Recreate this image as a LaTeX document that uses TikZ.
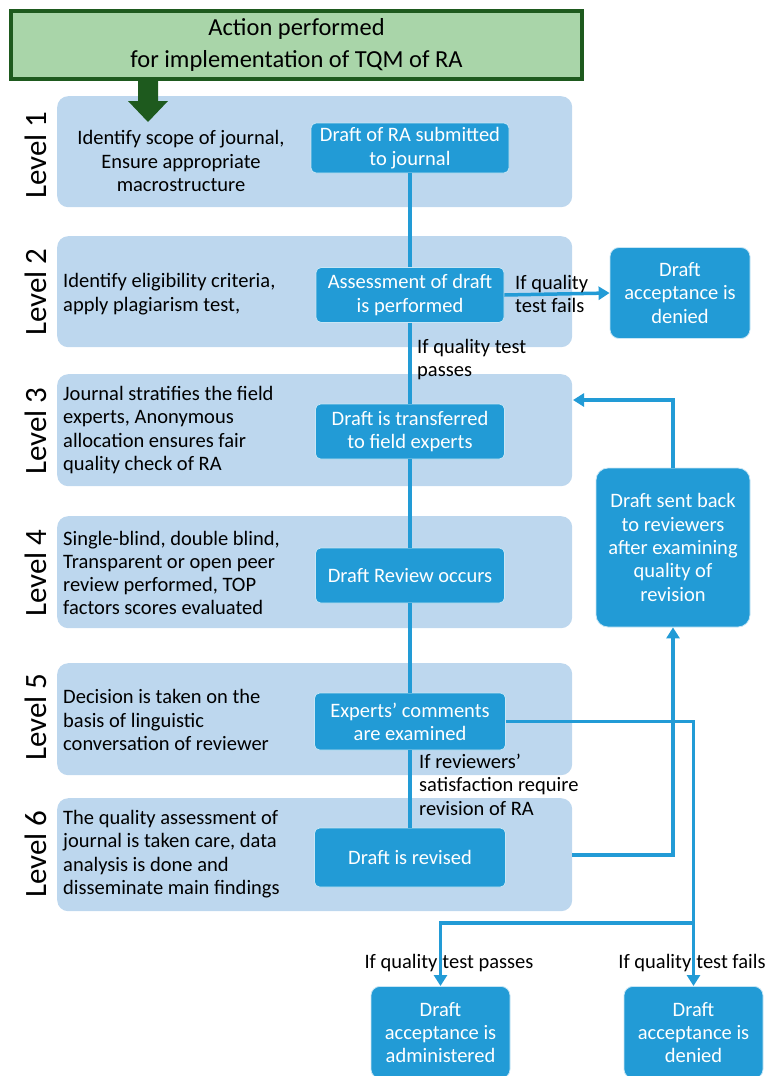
\documentclass[tikz,border=0pt]{standalone}
\usepackage{fontspec}
\setmainfont{Carlito}
\usetikzlibrary{arrows.meta}
\definecolor{bandblue}{HTML}{BDD7EE}
\definecolor{boxblue}{HTML}{229BD6}
\definecolor{hdrgreen}{HTML}{A9D5A9}
\definecolor{dkgreen}{HTML}{1E5A1E}
\newcommand{\fsbody}{\fontsize{20.5}{23.3}\selectfont}
\newcommand{\fshdr}{\fontsize{24.5}{31.5}\selectfont}
\newcommand{\fslvl}{\fontsize{31}{34}\selectfont}
\tikzset{
  band/.style={fill=bandblue, draw=none, rounded corners=11pt, minimum width=515pt, anchor=north west, inner sep=0pt},
  flowbox/.style={fill=boxblue, draw=white!75!boxblue, line width=0.8pt, rounded corners=5pt, text=white, align=center, font=\fsbody, inner sep=2pt},
  conn/.style={draw=boxblue, line width=3.5pt},
  tip/.style={-{Triangle[length=11pt,width=13pt]}},
  lvl/.style={rotate=90, font=\fslvl},
  desc/.style={font=\fsbody, align=left, anchor=west, inner sep=0pt},
  lbl/.style={font=\fsbody, align=left, inner sep=0pt}
}
\begin{document}
\begin{tikzpicture}[x=1pt,y=-1pt]
\useasboundingbox (0,0) rectangle (770,1076);
% header
\node[fill=hdrgreen, draw=dkgreen, line width=4pt, minimum width=571pt, minimum height=68pt, align=center, font=\fshdr, inner sep=0pt] (hdr) at (296.5,45) {Action performed\\for implementation of TQM of RA};
% bands
\node[band, minimum height=111pt] (b1) at (57,96) {};
\node[band, minimum height=111pt] (b2) at (57,236) {};
\node[band, minimum height=112pt] (b3) at (57,374) {};
\node[band, minimum height=112pt] (b4) at (57,516) {};
\node[band, minimum height=112pt] (b5) at (57,663) {};
\node[band, minimum height=113pt] (b6) at (57,798) {};
% header arrow
\fill[dkgreen] (138,80) -- (158,80) -- (158,101) -- (168,101) -- (148,122) -- (128,101) -- (138,101) -- cycle;
% level labels
\node[lvl] (l1) at (36,155) {Level 1};
\node[lvl] (l2) at (36,292) {Level 2};
\node[lvl] (l3) at (36,431) {Level 3};
\node[lvl] (l4) at (36,573) {Level 4};
\node[lvl] (l5) at (36,717) {Level 5};
\node[lvl] (l6) at (36,854) {Level 6};
% descriptions
\node[font=\fsbody, align=center, inner sep=0pt] (d1) at (181,161) {Identify scope of journal,\\Ensure appropriate\\macrostructure};
\node[desc] (d2) at (63,294) {Identify eligibility criteria,\\apply plagiarism test,};
\node[desc] (d3) at (63,430) {Journal stratifies the field\\experts, Anonymous\\allocation ensures fair\\quality check of RA};
\node[desc] (d4) at (63,573) {Single-blind, double blind,\\Transparent or open peer\\review performed, TOP\\factors scores evaluated};
\node[desc] (d5) at (63,720) {Decision is taken on the\\basis of linguistic\\conversation of reviewer};
\node[desc] (d6) at (63,854) {The quality assessment of\\journal is taken care, data\\analysis is done and\\disseminate main findings};
% main flow boxes
\node[flowbox, minimum width=198pt, minimum height=50pt] (f1) at (410,148) {Draft of RA submitted\\to journal};
\node[flowbox, minimum width=188pt, minimum height=55pt] (f2) at (410,295) {Assessment of draft\\is performed};
\node[flowbox, minimum width=189pt, minimum height=55pt] (f3) at (410,431.5) {Draft is transferred\\to field experts};
\node[flowbox, minimum width=189pt, minimum height=55pt] (f4) at (410,575.5) {Draft Review occurs};
\node[flowbox, minimum width=191pt, minimum height=57pt] (f5) at (410,721.5) {Experts’ comments\\are examined};
\node[flowbox, minimum width=191pt, minimum height=59pt] (f6) at (410,857.5) {Draft is revised};
% side boxes
\node[flowbox, rounded corners=9pt, minimum width=140pt, minimum height=91pt] (deny1) at (680,293) {Draft\\acceptance is\\denied};
\node[flowbox, rounded corners=12pt, minimum width=154pt, minimum height=159pt] (back) at (673,547.5) {Draft sent back\\to reviewers\\after examining\\quality of\\revision};
\node[flowbox, rounded corners=9pt, minimum width=139pt, minimum height=92pt, anchor=north] (admin) at (440.5,986) {Draft\\acceptance is\\administered};
\node[flowbox, rounded corners=9pt, minimum width=139pt, minimum height=92pt, anchor=north] (deny2) at (693.5,986) {Draft\\acceptance is\\denied};
% coordinates
\coordinate (c3) at (573,400);
\coordinate (c6) at (572,855);
\coordinate (split) at (693.5,923);
% connectors
\draw[conn] (f1) -- (f2);
\draw[conn] (f2) -- (f3);
\draw[conn] (f3) -- (f4);
\draw[conn] (f4) -- (f5);
\draw[conn] (f5) -- (f6);
\draw[conn, tip] (f2.east) -- (deny1.west);
\draw[conn, tip] (back.north) |- (c3);
\draw[conn, tip] (c6) -| (back.south);
\draw[conn, tip] (f5.east) -| (deny2.north);
\draw[conn, tip] (split) -| (admin.north);
% labels
\node[lbl, anchor=west] (t1) at (515,294) {If quality\\test fails};
\node[lbl, anchor=north west] (t2) at (417,339) {If quality test\\passes};
\node[lbl, anchor=north west] (t3) at (419,754) {If reviewers’\\satisfaction require\\revision of RA};
\node[lbl] (t4) at (449,963) {If quality\hspace{5pt}test passes};
\node[lbl] (t5) at (692,963) {If quality\hspace{5pt}test fails};
\end{tikzpicture}
\end{document}
